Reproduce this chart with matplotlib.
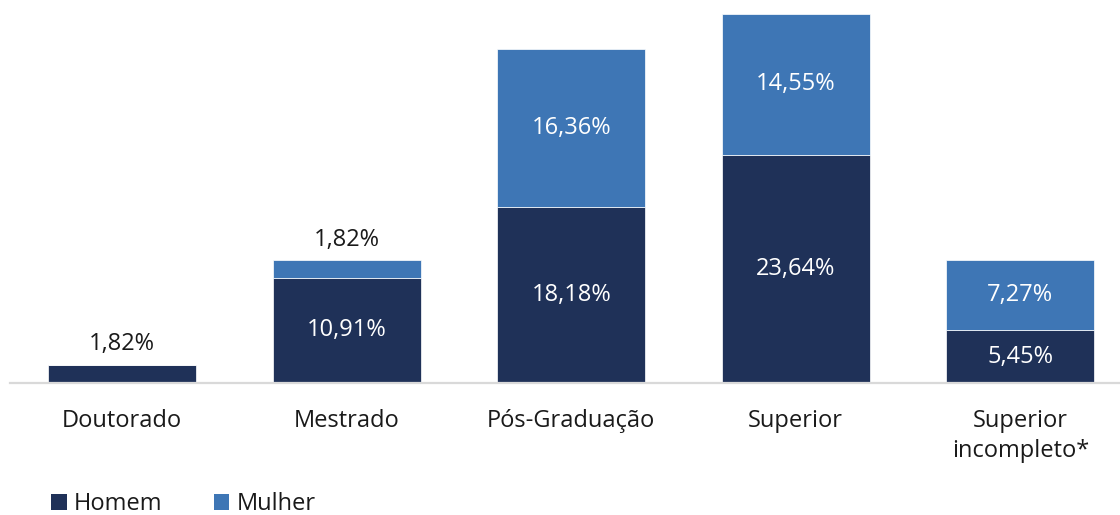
import matplotlib
matplotlib.use("Agg")
import matplotlib.pyplot as plt
from matplotlib.patches import Patch

categories = ["Doutorado", "Mestrado", "Pós-Graduação", "Superior", "Superior\nincompleto*"]
homem = [1.82, 10.91, 18.18, 23.64, 5.45]
mulher = [0.0, 1.82, 16.36, 14.55, 7.27]
series_names = ["Homem", "Mulher"]

c_homem = "#1F3158"
c_mulher = "#3E76B5"
FONT = "Open Sans"
FS = 17

plt.rcParams['font.family'] = [FONT, 'DejaVu Sans']

fig = plt.figure(figsize=(11.2, 5.15), dpi=100)
W, H = 1120, 515
ax = fig.add_axes([10 / W, 132 / H, 1110 / W, 381.6 / H])

x = list(range(len(categories)))
bw = 0.66
ax.bar(x, homem, width=bw, color=c_homem, edgecolor="white", linewidth=0.5)
ax.bar(x, mulher, width=bw, bottom=homem, color=c_mulher, edgecolor="white", linewidth=0.5)

ax.set_xlim(-0.5, 4.5 - 12.5 / 224.5)
ax.set_ylim(0, 39.5)

def fmt(v):
    return f"{v:.2f}".replace(".", ",") + "%"

for i in x:
    h, m = homem[i], mulher[i]
    if h >= 4:
        ax.text(i, h / 2, fmt(h), ha="center", va="center", color="white", fontsize=FS)
    else:
        ax.annotate(fmt(h), (i, h + m), xytext=(0, 7), textcoords="offset points",
                    ha="center", va="bottom", color="#1a1a1a", fontsize=FS)
    if m > 0:
        if m >= 4:
            ax.text(i, h + m / 2, fmt(m), ha="center", va="center", color="white", fontsize=FS)
        else:
            ax.annotate(fmt(m), (i, h + m), xytext=(0, 6), textcoords="offset points",
                        ha="center", va="bottom", color="#1a1a1a", fontsize=FS)

for s in ["top", "right", "left"]:
    ax.spines[s].set_visible(False)
ax.spines["bottom"].set_color("#D9D9D9")
ax.spines["bottom"].set_linewidth(1.6)
ax.set_yticks([])
ax.set_xticks(x)
ax.set_xticklabels(categories, fontsize=FS, color="#1a1a1a", linespacing=1.36)
ax.tick_params(axis="x", length=0, pad=18.5)

handles = [Patch(facecolor=c_homem, edgecolor="none"), Patch(facecolor=c_mulher, edgecolor="none")]
fig.legend(handles, series_names, loc="center left", bbox_to_anchor=(30 / W, 11 / H),
           frameon=False, fontsize=FS, handlelength=0.65, handleheight=0.65,
           handletextpad=0.3, columnspacing=2.2, ncol=2, labelcolor="#1a1a1a")

fig.savefig("out.png", dpi=100)
